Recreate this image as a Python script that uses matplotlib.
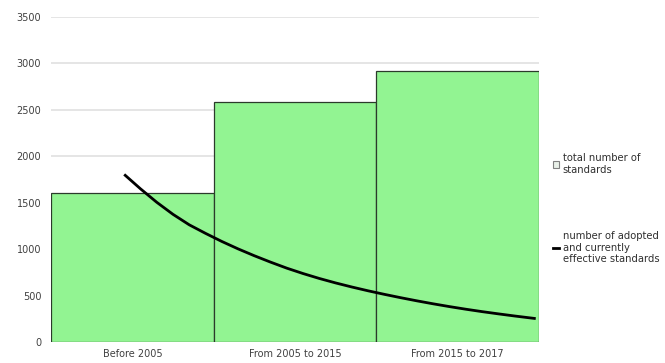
import numpy as np
import matplotlib.pyplot as plt
from matplotlib.patches import Patch
from matplotlib.lines import Line2D

categories = ["Before 2005", "From 2005 to 2015", "From 2015 to 2017"]
total_standards = [1605, 2590, 2920]

# curve of adopted / currently effective standards
curve_x = [-0.05, 0.05, 0.15, 0.25, 0.35, 0.45, 0.55, 0.65, 0.75, 0.85, 0.95,
           1.05, 1.15, 1.25, 1.35, 1.45, 1.55, 1.65, 1.75, 1.85, 1.95,
           2.05, 2.15, 2.25, 2.35, 2.48]
curve_y = [1805, 1650, 1505, 1375, 1262, 1170, 1083, 1003, 929, 860, 795,
           737, 684, 636, 592, 551, 513, 477, 443, 411, 381,
           353, 327, 303, 280, 252]

fig = plt.figure(figsize=(6.65, 3.63), dpi=100)
ax = fig.add_axes([0.0767, 0.0579, 0.7338, 0.8951])

xpos = np.arange(len(categories))
ax.bar(xpos, total_standards, width=1.0, color="#92f492", edgecolor="#2b3b2b",
       linewidth=0.9, zorder=2)
ax.plot(curve_x, curve_y, color="black", linewidth=2, zorder=3,
        solid_joinstyle="round", solid_capstyle="butt")

ax.set_xlim(-0.5, 2.5)
ax.set_ylim(0, 3500)
ax.set_yticks(np.arange(0, 3501, 500))
ax.set_xticks(xpos)
ax.set_xticklabels(categories)
ax.yaxis.grid(True, color="#dedede", linewidth=1.1, zorder=0)
ax.set_axisbelow(True)
for s in ax.spines.values():
    s.set_visible(False)
ax.tick_params(axis="both", length=0, labelsize=7, labelcolor="#404040")
ax.tick_params(axis="y", pad=7)
ax.tick_params(axis="x", pad=5)

handles = [
    Patch(facecolor="#e8f0e8", edgecolor="#808080", linewidth=0.8),
    Line2D([], [], color="black", linewidth=2),
]
labels = ["total number of\nstandards",
          "number of adopted\nand currently\neffective standards"]
ax.legend(handles, labels, loc="center left", bbox_to_anchor=(1.01, 0.41),
          frameon=False, fontsize=7.2, handlelength=0.6, handleheight=0.6,
          handletextpad=0.4, labelspacing=5.6, labelcolor="#303030")

fig.savefig("out.png", dpi=100)
